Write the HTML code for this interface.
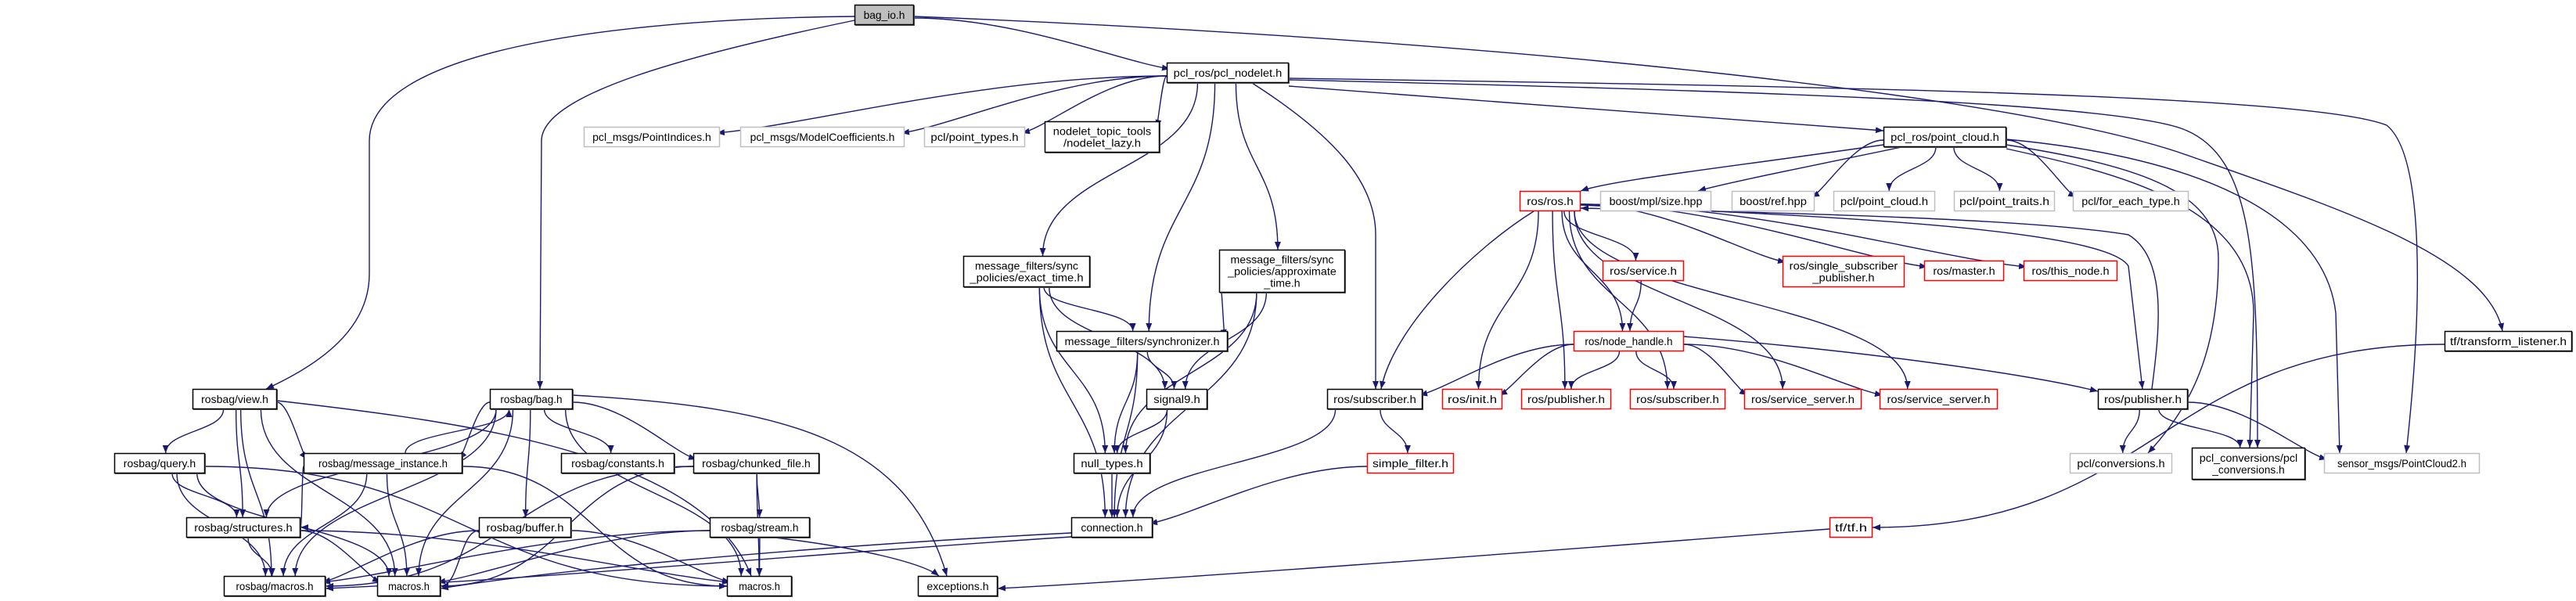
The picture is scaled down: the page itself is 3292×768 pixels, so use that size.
<!DOCTYPE html>
<html><head><meta charset="utf-8">
<style>html,body{margin:0;padding:0;background:#fff;width:3292px;height:768px;overflow:hidden}</style>
</head><body>
<svg id="g" xmlns="http://www.w3.org/2000/svg" width="3292" height="768" viewBox="0 0 3292 768">
<defs><marker id="a" viewBox="0 0 10 10" refX="10" refY="5" markerWidth="10" markerHeight="10" markerUnits="userSpaceOnUse" orient="auto"><path d="M0,1 L10,5 L0,9 z" fill="#191970"/></marker></defs>
<g id="E" fill="none" stroke="#191970" stroke-width="1.4"></g>
<g id="N" font-family="Liberation Sans, DejaVu Sans, sans-serif" font-size="14"></g>
</svg>
<script>
var N={
bagio:[1092,6,1168,32,'k',['bag_io.h'],1],
nodelet:[1491,80,1647,106,'k',['pcl_ros/pcl_nodelet.h']],
pidx:[746,162,920,188,'g',['pcl_msgs/PointIndices.h']],
mcoef:[946,162,1156,188,'g',['pcl_msgs/ModelCoefficients.h']],
ptypes:[1181,162,1310,188,'g',['pcl/point_types.h']],
lazy:[1335,155,1482,195,'k',['nodelet_topic_tools','/nodelet_lazy.h']],
pcloud:[2407,162,2564,188,'k',['pcl_ros/point_cloud.h']],
exact:[1231,327,1393,367,'k',['message_filters/sync','_policies/exact_time.h']],
approx:[1558,319,1719,374,'k',['message_filters/sync','_policies/approximate','_time.h']],
rosh:[1942,244,2020,270,'r',['ros/ros.h']],
mpl:[2045,244,2187,270,'g',['boost/mpl/size.hpp']],
bref:[2213,244,2319,270,'g',['boost/ref.hpp']],
pclpc:[2343,244,2473,270,'g',['pcl/point_cloud.h']],
ptr:[2497,244,2626,270,'g',['pcl/point_traits.h']],
fet:[2649,244,2797,270,'g',['pcl/for_each_type.h']],
service:[2048,333,2152,359,'r',['ros/service.h']],
ssp:[2278,327,2434,367,'r',['ros/single_subscriber','_publisher.h']],
master:[2459,333,2561,359,'r',['ros/master.h']],
thisn:[2586,333,2706,359,'r',['ros/this_node.h']],
view:[246,497,354,523,'k',['rosbag/view.h']],
bag:[626,497,732,523,'k',['rosbag/bag.h']],
query:[146,579,262,605,'k',['rosbag/query.h']],
mi:[388,579,591,605,'k',['rosbag/message_instance.h']],
consts:[717,579,862,605,'k',['rosbag/constants.h']],
chunk:[886,579,1047,605,'k',['rosbag/chunked_file.h']],
struct:[238,661,384,687,'k',['rosbag/structures.h']],
buffer:[612,661,730,687,'k',['rosbag/buffer.h']],
stream:[907,661,1035,687,'k',['rosbag/stream.h']],
rbmac:[286,736,416,762,'k',['rosbag/macros.h']],
mac1:[482,736,563,762,'k',['macros.h']],
mac2:[929,736,1012,762,'k',['macros.h']],
sync:[1350,423,1569,449,'k',['message_filters/synchronizer.h']],
sig9:[1465,497,1543,523,'k',['signal9.h']],
nullt:[1372,579,1470,605,'k',['null_types.h']],
conn:[1369,661,1473,687,'k',['connection.h']],
exc:[1173,736,1275,762,'k',['exceptions.h']],
rsub:[1696,497,1818,523,'k',['ros/subscriber.h']],
init:[1843,497,1920,523,'r',['ros/init.h']],
pubr:[1944,497,2059,523,'r',['ros/publisher.h']],
subr:[2083,497,2205,523,'r',['ros/subscriber.h']],
sfilt:[1747,579,1858,605,'r',['simple_filter.h']],
nh:[2011,423,2152,449,'r',['ros/node_handle.h']],
ss1:[2229,497,2379,523,'r',['ros/service_server.h']],
ss2:[2402,497,2553,523,'r',['ros/service_server.h']],
pub:[2681,497,2796,523,'k',['ros/publisher.h']],
tfl:[3124,423,3287,449,'k',['tf/transform_listener.h']],
pconv:[2645,579,2776,605,'g',['pcl/conversions.h']],
pclc:[2801,572,2946,613,'k',['pcl_conversions/pcl','_conversions.h']],
pc2:[2970,579,3169,605,'g',['sensor_msgs/PointCloud2.h']],
tf:[2338,661,2393,687,'r',['tf/tf.h']]
};
var O={
'bagio>view':'M1092,21 C760,24 472,70 472,180 L472,350 C472,420 410,465 340,497',
'bagio>bag':'M1092,26 C880,70 692,120 692,180 L690,497',
'bagio>tfl':'M1168,21 C1900,50 2580,120 2800,200 C3000,270 3180,330 3198,423',
'nodelet>pc2':'M1647,100 C2300,110 2950,120 3050,160 C3100,200 3095,400 3075,579',
'nodelet>pclc':'M1647,102 C2200,115 2700,130 2790,165 C2880,200 2885,330 2885,572',
'nodelet>rsub':'M1600,106 C1700,170 1758,230 1758,300 L1758,497',
'nodelet>pcloud':'M1647,110 C1900,130 2200,150 2407,167',
'pcloud>pconv':'M2564,185 C2720,210 2835,240 2835,330 C2835,450 2800,520 2745,579',
'pcloud>pclc':'M2564,190 C2700,220 2880,260 2880,400 L2875,572',
'pcloud>pc2':'M2564,178 C2800,200 2970,270 2985,400 L2990,579',
'pcloud>rosh':'M2407,185 C2200,215 2060,230 2020,244',
'pcloud>mpl':'M2430,188 C2300,215 2200,235 2170,244',
'rosh>pub':'M2020,262 C2300,275 2690,290 2720,340 L2738,497',
'pub>rosh':'M2750,497 C2760,420 2770,330 2720,300 C2600,280 2300,272 2020,266',
'rosh>rsub':'M1960,270 C1880,320 1780,420 1765,497',
'nh>pub':'M2152,430 C2400,450 2600,480 2681,500',
'bag>exc':'M732,505 C1000,520 1160,560 1210,736',
'view>mac2':'M354,512 C600,540 900,580 960,736',
'tf>exc':'M2338,676 C1900,710 1500,740 1275,752',
'conn>mac1':'M1369,681 C1000,700 700,730 563,752',
'conn>rbmac':'M1369,686 C1000,710 700,740 416,752',
'stream>exc':'M990,687 C1100,700 1180,720 1200,736'
};
var E=[
['bagio','view'],['bagio','bag'],['bagio','nodelet'],['bagio','tfl'],
['nodelet','pidx'],['nodelet','mcoef'],['nodelet','ptypes'],['nodelet','lazy'],['nodelet','exact'],['nodelet','sync'],['nodelet','approx'],['nodelet','rsub'],['nodelet','pcloud'],['nodelet','pc2'],['nodelet','pclc'],
['pcloud','rosh'],['pcloud','mpl'],['pcloud','bref'],['pcloud','pclpc'],['pcloud','ptr'],['pcloud','fet'],['pcloud','pconv'],['pcloud','pclc'],['pcloud','pc2'],
['rosh','rsub'],['rosh','init'],['rosh','pubr'],['rosh','subr'],['rosh','service'],['rosh','nh'],['rosh','ss1'],['rosh','ss2'],['rosh','ssp'],['rosh','master'],['rosh','thisn'],['rosh','pub'],['pub','rosh'],
['service','nh'],
['nh','rsub'],['nh','init'],['nh','pubr'],['nh','subr'],['nh','ss1'],['nh','ss2'],['nh','pub'],
['rsub','sfilt'],['rsub','conn'],['sfilt','conn'],
['pub','pconv'],['pub','pclc'],['pub','pc2'],
['tfl','tf'],['tf','exc'],
['exact','sync'],['exact','sig9'],['exact','nullt'],['exact','conn'],
['approx','sync'],['approx','sig9'],['approx','nullt'],['approx','conn'],
['sync','sig9'],['sync','nullt'],['sync','conn'],
['sig9','nullt'],['sig9','conn'],['nullt','conn'],
['conn','mac1'],['conn','rbmac'],
['view','query'],['view','struct'],['view','mi'],['view','rbmac'],['view','mac1'],['view','mac2'],
['bag','mi'],['mi','bag'],['bag','struct'],['bag','consts'],['bag','chunk'],['bag','buffer'],['bag','mac1'],['bag','mac2'],['bag','rbmac'],['bag','exc'],
['query','struct'],['query','rbmac'],['query','mac1'],['query','mac2'],
['mi','struct'],['mi','rbmac'],['mi','mac1'],['mi','mac2'],
['chunk','stream'],['chunk','rbmac'],['chunk','mac1'],['chunk','mac2'],
['struct','rbmac'],['struct','mac1'],['struct','mac2'],
['buffer','rbmac'],['buffer','mac1'],['buffer','mac2'],
['stream','rbmac'],['stream','mac1'],['stream','mac2'],['stream','exc']
];
var NS='http://www.w3.org/2000/svg';
function el(t,a,p){var e=document.createElementNS(NS,t);for(var k in a)e.setAttribute(k,a[k]);p.appendChild(e);return e;}
var eg=document.getElementById('E'),ng=document.getElementById('N');
function cl(v,a,b){return Math.max(a,Math.min(b,v));}
E.forEach(function(e){
 var s=N[e[0]],t=N[e[1]],d=O[e[0]+'>'+e[1]];
 var scx=(s[0]+s[2])/2,tcx=(t[0]+t[2])/2;
 if(!d){
 if(t[1]>s[3]-2){
  var sy=s[3],ey=t[1],dy=ey-sy,ex,sx;
  if(Math.abs(tcx-scx)>3.2*dy && t[3]-s[3]<120){
   // long horizontal: exit side, enter from side near target bottom level
   sx=tcx>scx?s[2]:s[0]; sy=(s[1]+s[3])/2+4;
   ex=tcx>scx?t[0]+4:t[2]-4; ey=t[1]+8;
   d='M'+sx+','+sy+' C'+(sx*0.6+ex*0.4)+','+sy+' '+(sx*0.2+ex*0.8)+','+(ey-10)+' '+ex+','+ey;
  } else if(Math.abs(tcx-scx)>3*dy){
   sx=tcx>scx?s[2]:s[0]; sy=(s[1]+s[3])/2+4;
   ex=tcx>scx?t[0]:t[2]; ey=(t[1]+t[3])/2;
   d='M'+sx+','+sy+' C'+(sx*0.5+ex*0.5)+','+sy+' '+(sx*0.5+ex*0.5)+','+ey+' '+ex+','+ey;
  } else {
   sx=cl(scx+(tcx-scx)*0.15,s[0]+8,s[2]-8);
   ex=cl(tcx+(scx-tcx)*0.08,t[0]+8,t[2]-8);
   d='M'+sx+','+sy+' C'+sx+','+(sy+dy*0.5)+' '+ex+','+(ey-dy*0.5)+' '+ex+','+ey;
  }
 } else if(s[1]>t[3]-2){
  var sx=cl(scx+(tcx-scx)*0.15,s[0]+8,s[2]-8),sy=s[1];
  var ex=cl(tcx+(scx-tcx)*0.15,t[0]+8,t[2]-8),ey=t[3];
  var dy=sy-ey;
  d='M'+sx+','+sy+' C'+sx+','+(sy-dy*0.5)+' '+ex+','+(ey+dy*0.5)+' '+ex+','+ey;
 } else {
  var sy=(s[1]+s[3])/2,ey=(t[1]+t[3])/2,sx,ex;
  if(tcx>scx){sx=s[2];ex=t[0];}else{sx=s[0];ex=t[2];}
  d='M'+sx+','+sy+' C'+((sx+ex)/2)+','+sy+' '+((sx+ex)/2)+','+ey+' '+ex+','+ey;
 }}
 el('path',{d:d,'marker-end':'url(#a)'},eg);
});
for(var k in N){
 var n=N[k],w=n[2]-n[0],h=n[3]-n[1];
 var col=n[4]=='k'?'#000':(n[4]=='r'?'#ff0000':'#bfbfbf');
 if(n[4]=='k')el('rect',{x:n[0]+1,y:n[1]+1,width:w,height:h,fill:'#666'},ng);
 el('rect',{x:n[0]+0.5,y:n[1]+0.5,width:w-1,height:h-1,fill:n[6]?'#bfbfbf':'#fff',stroke:col,'stroke-width':1.5},ng);
 var L=n[5],lh=15,y0=(n[1]+n[3])/2-(L.length-1)*lh/2+5;
 L.forEach(function(s,i){
  var tw=Math.min(w-14,s.length*6.6);
  el('text',{x:(n[0]+n[2])/2,y:y0+i*lh,'text-anchor':'middle',textLength:tw,lengthAdjust:'spacingAndGlyphs',fill:'#000'},ng).textContent=s;
 });
}
</script>
</body></html>
